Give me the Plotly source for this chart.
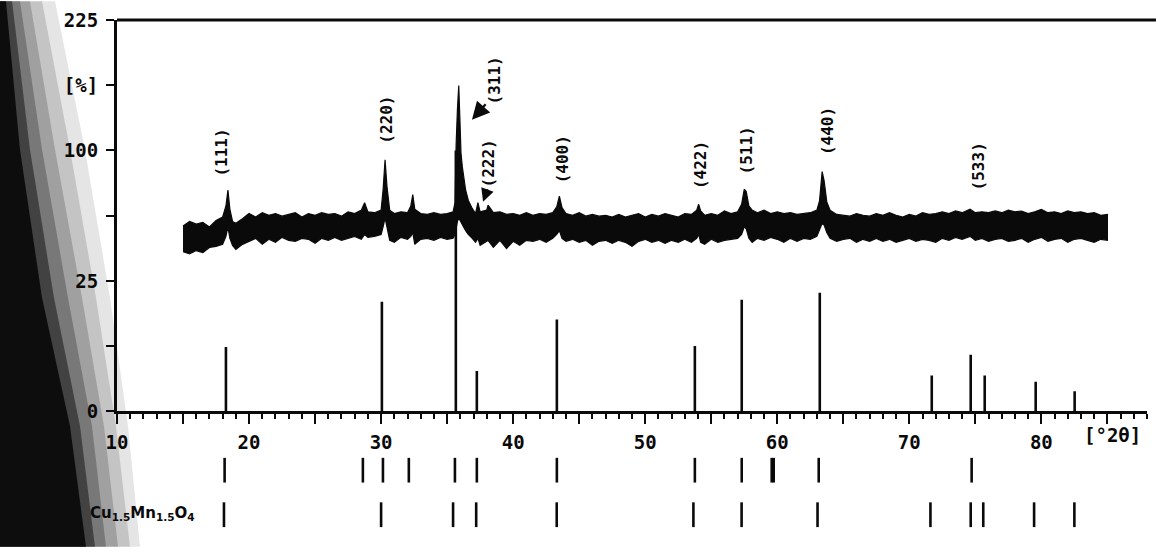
import numpy as np
import plotly.graph_objects as go

# ---------------------------------------------------------------------------
# Measured diffractogram: upper and lower edges of the recorded (noisy) trace,
# intensity in % on a square-root scale
# ---------------------------------------------------------------------------
meas_2theta = [
    15.0, 15.5, 16.0, 16.5, 17.0, 17.5, 18.0, 18.25, 18.4, 18.55, 18.75, 19.0, 19.5,
    20.0, 20.5, 21.0, 21.5, 22.0, 22.5, 23.0, 23.5, 24.0, 24.5,
    25.0, 25.5, 26.0, 26.5, 27.0, 27.5, 28.0, 28.5, 28.75, 29.0, 29.5,
    30.0, 30.15, 30.3, 30.45, 30.65, 31.0, 31.5, 32.0, 32.25, 32.4, 32.55, 33.0, 33.5, 34.0, 34.5,
    35.0, 35.45, 35.6, 35.64, 35.68, 35.78, 35.88, 35.96, 36.05, 36.15, 36.25, 36.4, 36.6, 36.9, 37.15, 37.33, 37.5, 38.0, 38.1, 38.5, 39.0, 39.5,
    40.0, 40.5, 41.0, 41.5, 42.0, 42.5, 43.0, 43.3, 43.5, 43.7, 44.0, 44.5,
    45.0, 45.5, 46.0, 46.5, 47.0, 47.5, 48.0, 48.5, 49.0, 49.5,
    50.0, 50.5, 51.0, 51.5, 52.0, 52.5, 53.0, 53.5, 53.9, 54.05, 54.2, 54.5,
    55.0, 55.5, 56.0, 56.5, 57.0, 57.3, 57.5, 57.65, 57.85, 58.1, 58.5, 59.0, 59.5,
    60.0, 60.5, 61.0, 61.5, 62.0, 62.5, 63.0, 63.2, 63.4, 63.55, 63.75, 64.0, 64.5,
    65.0, 65.5, 66.0, 66.5, 67.0, 67.5, 68.0, 68.5, 69.0, 69.5,
    70.0, 70.5, 71.0, 71.5, 72.0, 72.5, 73.0, 73.5, 74.0, 74.6,
    75.0, 75.5, 76.0, 76.5, 77.0, 77.5, 78.0, 78.5, 79.0, 79.5,
    80.0, 80.5, 81.0, 81.5, 82.0, 82.5, 83.0, 83.5, 84.0, 84.5, 85.0,
]
meas_upper = [
    50.5, 53.0, 51.5, 52.5, 50.0, 53.5, 55.5, 62.0, 72.0, 60.0, 53.0, 52.0, 54.5,
    57.5, 55.5, 58.0, 56.5, 57.5, 56.0, 57.0, 58.0, 55.5, 57.5,
    56.5, 58.0, 57.0, 57.5, 56.0, 58.5, 57.5, 59.5, 64.0, 58.5, 58.0,
    59.5, 72.0, 93.0, 74.0, 59.5, 57.5, 58.5, 58.0, 62.0, 69.0, 60.0, 57.5, 57.0, 58.0, 57.0,
    57.5, 58.5, 64.0, 95.0, 104.0, 134.0, 156.0, 128.0, 98.0, 88.0, 80.0, 72.0, 65.5, 60.5, 57.5, 64.0, 58.5, 59.5, 62.5, 58.0, 58.5, 57.0,
    57.5, 56.5, 58.0, 56.5, 57.5, 57.0, 58.0, 61.5, 68.0, 61.0, 57.5, 56.5,
    58.0, 56.0, 57.0, 56.0, 56.5, 55.5, 57.0, 55.5, 56.5, 57.5,
    55.5, 57.0, 56.0, 57.5, 56.5, 55.5, 57.5, 57.0, 59.5, 63.0, 59.0, 56.5,
    57.5, 56.5, 59.0, 57.5, 58.5, 63.0, 72.5, 71.0, 62.0, 59.5, 58.0, 59.5, 57.5,
    58.5, 57.5, 58.0, 57.0, 57.5, 58.0, 59.5, 65.0, 84.5, 78.0, 64.5, 59.5, 57.0,
    56.5, 56.0, 57.5, 56.5, 56.0, 57.5, 56.5, 58.0, 56.5, 55.5,
    57.0, 56.0, 58.0, 57.0, 57.5, 58.5, 57.5, 59.0, 58.0, 60.0,
    58.0, 58.5, 58.0, 59.0, 58.0, 59.5, 58.5, 59.0, 57.5, 58.5,
    60.0, 58.0, 58.5, 57.5, 59.0, 58.0, 58.5, 57.5, 58.0, 56.5, 57.0,
]
meas_lower = [
    37.5, 36.5, 38.0, 37.0, 39.5, 40.0, 41.0, 45.0, 50.0, 44.0, 40.5, 38.5, 41.0,
    42.5, 44.0, 41.0, 43.5, 42.0, 44.5, 43.0, 42.5, 44.0, 43.5,
    41.5, 44.0, 43.0, 44.5, 43.0, 44.0, 45.0, 43.5, 46.0, 44.5, 45.0,
    46.0, 50.0, 55.0, 50.0, 43.0, 42.0, 44.5, 43.5, 45.0, 47.0, 41.0, 43.5, 44.0, 43.0, 44.5,
    43.5, 44.0, 46.0, 48.0, 50.0, 53.0, 55.0, 54.0, 53.0, 52.0, 50.0, 48.0, 46.0, 44.0, 42.0, 44.0, 40.5, 42.5, 43.0, 39.5, 43.0, 39.0,
    42.5, 40.5, 43.0, 42.5, 43.5, 42.0, 44.0, 46.0, 48.0, 44.0, 42.5, 43.5,
    42.0, 43.0, 40.5, 42.5, 43.0, 41.5, 43.0, 42.0, 40.0, 42.5,
    43.5, 42.0, 43.0, 41.5, 43.0, 42.0, 43.5, 42.0, 44.0, 46.0, 42.0, 41.0,
    43.5, 42.0, 43.0, 43.5, 44.0, 46.0, 50.0, 49.0, 44.0, 42.0, 44.0, 43.0, 44.5,
    43.5, 42.0, 44.0, 42.5, 44.0, 43.5, 45.0, 48.0, 52.0, 51.0, 47.0, 44.0, 42.5,
    43.5, 44.0, 42.0, 43.5, 42.5, 44.0, 42.5, 43.5, 42.0, 43.0,
    44.0, 42.5, 43.5, 43.0, 42.0, 44.0, 43.0, 44.5, 43.5, 45.0,
    43.0, 44.0, 42.5, 43.5, 44.0, 42.5, 43.0, 44.0, 42.0, 43.5,
    44.5, 42.5, 43.5, 44.0, 42.0, 43.5, 44.0, 43.0, 42.0, 43.5, 43.0,
]
assert len(meas_2theta) == len(meas_upper) == len(meas_lower)

# Reference line pattern (relative intensity, %)
ref_2theta = [18.25, 30.06, 35.66, 37.25, 43.31, 53.76, 57.31, 63.22, 71.7, 74.65, 75.71, 79.57, 82.52]
ref_intensity = [6.1, 17.7, 100.0, 2.4, 12.4, 6.3, 18.3, 20.7, 1.9, 4.7, 1.9, 1.3, 0.6]

# Reflection positions of the phases listed under the axis
phase1_2theta = [18.15, 28.62, 30.14, 32.1, 35.59, 37.25, 43.31, 53.76, 57.31, 59.58, 59.73, 63.14, 74.72]
phase2_2theta = [18.1, 30.0, 35.45, 37.2, 43.3, 53.65, 57.3, 63.05, 71.6, 74.65, 75.6, 79.45, 82.5]
phase2_name = "Cu<sub>1.5</sub>Mn<sub>1.5</sub>O<sub>4</sub>"

# Miller indices of the indexed reflections and where their labels sit
hkl_labels = ["(111)", "(220)", "(311)", "(222)", "(400)", "(422)", "(511)", "(440)", "(533)"]
hkl_label_2theta = [17.95, 30.44, 38.55, 38.1, 43.7, 54.2, 57.7, 63.8, 75.2]
hkl_label_y = [0.741, 0.805, 0.882, 0.720, 0.728, 0.716, 0.745, 0.784, 0.714]

# Axis ticks
x_tick_vals = [10, 15, 20, 25, 30, 35, 40, 45, 50, 55, 60, 65, 70, 75, 80, 85]
x_tick_text = ["10", "", "20", "", "30", "", "40", "", "50", "", "60", "", "70", "", "80", ""]
y_tick_pct = [0, 6.25, 25, 56.25, 100, 156.25, 225]
y_tick_text = ["0", "", "25", "", "100", "[%]", "225"]

# ---------------------------------------------------------------------------
W, H = 1156, 552
M_L, M_R, M_T, M_B = 117, 9, 19, 15
MAIN_BOTTOM = 0.2355          # paper fraction where the 2theta axis sits
ROWS_TOP = 0.168
ROW1 = (0.575, 0.862)
ROW2 = (0.057, 0.345)

BLACK = "#0a0a0a"
MONO = "DejaVu Sans Mono"

fig = go.Figure()

# recorded trace as a filled band between its edges
sq_up = np.sqrt(meas_upper)
sq_lo = np.sqrt(meas_lower)
fig.add_trace(go.Scatter(
    x=list(meas_2theta) + list(meas_2theta[::-1]),
    y=list(sq_up) + list(sq_lo[::-1]),
    fill="toself", fillcolor=BLACK, mode="lines",
    line=dict(color=BLACK, width=1.2), hoverinfo="skip", showlegend=False,
))

# reference sticks
sx, sy = [], []
for t, i in zip(ref_2theta, ref_intensity):
    sx += [t, t, None]
    sy += [0, np.sqrt(i), None]
fig.add_trace(go.Scatter(x=sx, y=sy, mode="lines",
                         line=dict(color=BLACK, width=2.6),
                         hoverinfo="skip", showlegend=False))

# phase marker rows below the axis
for pos, (lo, hi) in ((phase1_2theta, ROW1), (phase2_2theta, ROW2)):
    px, py = [], []
    for t in pos:
        px += [t, t, None]
        py += [lo, hi, None]
    fig.add_trace(go.Scatter(x=px, y=py, xaxis="x", yaxis="y2", mode="lines",
                             line=dict(color=BLACK, width=2.6),
                             hoverinfo="skip", showlegend=False))

label_font = dict(family=MONO, size=16, color=BLACK, weight="bold")
annotations = []
for txt, t, yy in zip(hkl_labels, hkl_label_2theta, hkl_label_y):
    annotations.append(dict(x=t, y=yy, xref="x", yref="paper", text=txt,
                            textangle=-90, showarrow=False, font=label_font,
                            xanchor="center", yanchor="middle"))
# pointers for (311) and (222)
annotations.append(dict(x=36.88, y=0.805, xref="x", yref="paper", text="",
                        showarrow=True, ax=15, ay=-17, arrowhead=2, arrowsize=1.6,
                        arrowwidth=2.2, arrowcolor=BLACK))
annotations.append(dict(x=37.72, y=0.645, xref="x", yref="paper", text="",
                        showarrow=True, ax=5, ay=-14, arrowhead=2, arrowsize=1.3,
                        arrowwidth=2, arrowcolor=BLACK))
# axis unit and phase name
annotations.append(dict(x=85.4, y=0.19, xref="x", yref="paper", text="[°2θ]",
                        showarrow=False, font=dict(family=MONO, size=19, color=BLACK, weight="bold"),
                        xanchor="center", yanchor="middle"))
annotations.append(dict(x=16.06, y=0.22, xref="x", yref="y2", text=phase2_name,
                        showarrow=False, font=dict(family="DejaVu Sans", size=15, color=BLACK, weight="bold"),
                        xanchor="right", yanchor="middle"))

# shadow along the left edge of the scanned sheet, built up in thin layers
def px_path(points):
    pw = W - M_L - M_R
    ph = H - M_T - M_B
    segs = []
    for k, (x, y) in enumerate(points):
        xp = (x - M_L) / pw
        yp = (H - M_B - y) / ph
        segs.append(("M" if k == 0 else "L") + f"{xp:.4f},{yp:.4f}")
    return " ".join(segs) + " Z"

shadow_layers = [
    # (width at top, at y=150, at y=300, at y=430, at bottom), opacity
    ((55, 85, 110, 128, 140), 0.10),
    ((42, 70, 96, 116, 130), 0.14),
    ((30, 55, 82, 104, 118), 0.18),
    ((20, 42, 68, 92, 106), 0.25),
    ((12, 30, 54, 80, 95), 0.45),
    ((6, 20, 42, 70, 86), 0.8),
]
shapes = []
for widths, op in shadow_layers:
    ys = (0, 150, 300, 430, 552)
    pts = [(0, 0)] + [(w, y) for w, y in zip(widths, ys)] + [(0, 552)]
    shapes.append(dict(type="path", path=px_path(pts), xref="paper", yref="paper",
                       fillcolor="black", opacity=op, line=dict(width=0), layer="below"))
# top frame line
shapes.append(dict(type="line", xref="paper", yref="paper", x0=0, x1=1.0087, y0=1, y1=1,
                   line=dict(color=BLACK, width=3)))

tick_font = dict(family=MONO, size=19, color=BLACK, weight="bold")
fig.update_layout(
    width=W, height=H,
    margin=dict(l=M_L, r=M_R, t=M_T, b=M_B, pad=0),
    paper_bgcolor="white", plot_bgcolor="rgba(0,0,0,0)",
    showlegend=False,
    xaxis=dict(range=[10, 88], anchor="y", showline=True, linewidth=3, linecolor=BLACK,
               showgrid=False, zeroline=False, ticks="outside", ticklen=10, tickwidth=2.2,
               tickcolor=BLACK, tickvals=x_tick_vals, ticktext=x_tick_text,
               tickfont=tick_font, ticklabelstandoff=2,
               minor=dict(dtick=1, ticks="outside", ticklen=5, tickwidth=2, tickcolor=BLACK,
                          showgrid=False)),
    yaxis=dict(domain=[MAIN_BOTTOM, 1], range=[0, 15], showline=True, linewidth=3,
               linecolor=BLACK, showgrid=False, zeroline=False, ticks="outside",
               ticklen=8, tickwidth=2.2, tickcolor=BLACK,
               tickvals=list(np.sqrt(y_tick_pct)), ticktext=y_tick_text,
               tickfont=tick_font, ticklabelstandoff=4),
    yaxis2=dict(domain=[0, ROWS_TOP], range=[0, 1], visible=False, anchor="x"),
    annotations=annotations,
    shapes=shapes,
)

fig.write_html("out.html")
